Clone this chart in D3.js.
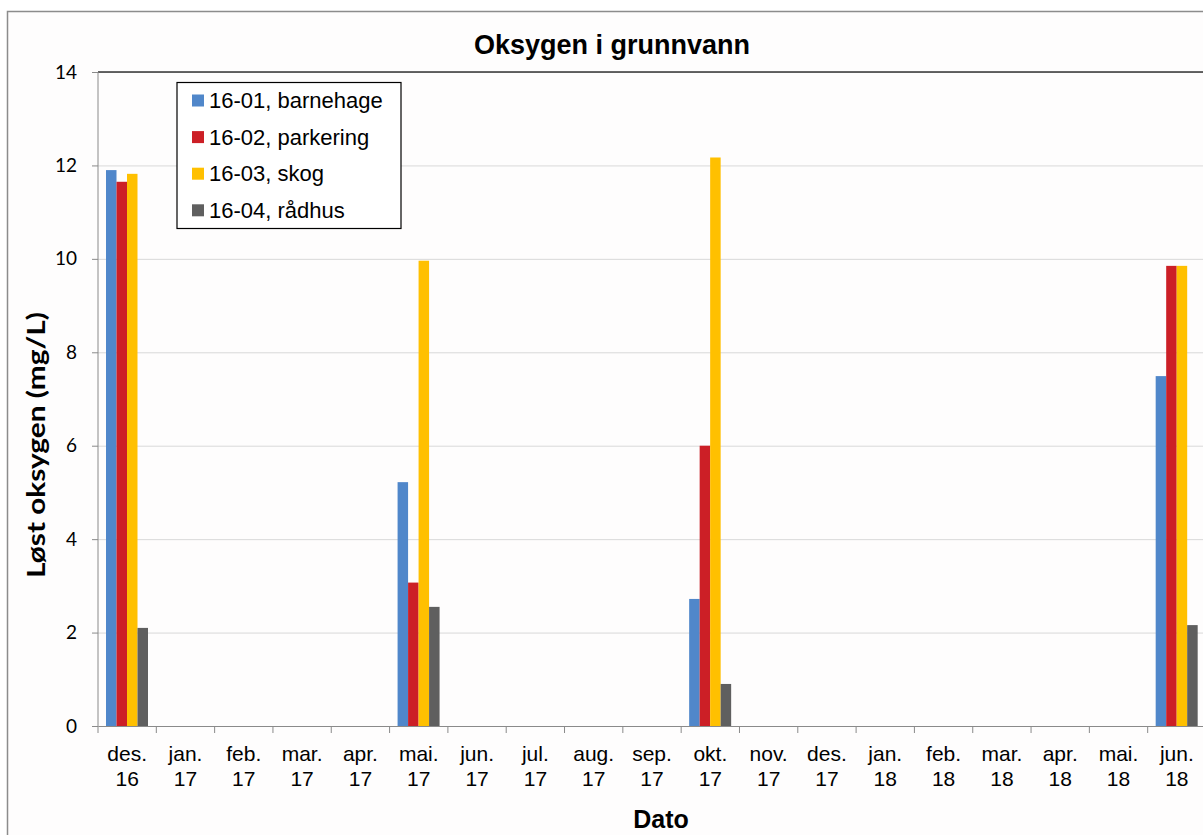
<!DOCTYPE html>
<html lang="no">
<head>
    <meta charset="UTF-8">
    <title>Oksygen i grunnvann</title>
    <script src="https://d3js.org/d3.v7.min.js"></script>
    <style>
        body {
            margin: 0;
            background: #fff;
            font-family: Arial, "Liberation Sans", sans-serif;
        }
        svg { display: block; }
        .grid line { stroke: #d9d9d9; stroke-width: 1; }
        .grid .domain { display: none; }
        .yaxis text { font-family: Lato, "Open Sans", sans-serif; font-size: 19px; fill: #000; }
        .yaxis line, .yaxis .domain { stroke: #8a8a8a; }
        .xaxis text { font-size: 21px; fill: #000; }
        .xaxis .domain { stroke: #8a8a8a; }
    </style>
</head>
<body>
<script>
    // categories (month, year)
    const months = ["des.", "jan.", "feb.", "mar.", "apr.", "mai.", "jun.", "jul.", "aug.", "sep.",
                    "okt.", "nov.", "des.", "jan.", "feb.", "mar.", "apr.", "mai.", "jun."];
    const years = ["16", "17", "17", "17", "17", "17", "17", "17", "17", "17",
                   "17", "17", "17", "18", "18", "18", "18", "18", "18"];

    const seriesNames = ["16-01, barnehage", "16-02, parkering", "16-03, skog", "16-04, rådhus"];
    const seriesColors = ["#5087ca", "#cc1f26", "#ffc000", "#5f5f5f"];

    // løst oksygen (mg/L), null = ingen måling
    const barnehage = [11.9, null, null, null, null, 5.22, null, null, null, null, 2.72, null, null, null, null, null, null, null, 7.49];
    const parkering = [11.65, null, null, null, null, 3.07, null, null, null, null, 6.0, null, null, null, null, null, null, null, 9.85];
    const skog      = [11.82, null, null, null, null, 9.96, null, null, null, null, 12.17, null, null, null, null, null, null, null, 9.85];
    const raadhus   = [2.1, null, null, null, null, 2.55, null, null, null, null, 0.9, null, null, null, null, null, null, null, 2.16];

    const yTicks = [0, 2, 4, 6, 8, 10, 12, 14];

    const W = 1203, H = 835;
    const mLeft = 98, mRight = 1206, mTop = 72, mBottom = 726;

    const cats = months.map((m, i) => i);
    const seriesValues = [barnehage, parkering, skog, raadhus];

    const x = d3.scaleBand().domain(cats).range([mLeft, mRight]).padding(0);
    const xSub = d3.scaleBand().domain(seriesNames).range([8, 50]).padding(0);
    const y = d3.scaleLinear().domain([0, 14]).range([mBottom, mTop]);

    const svg = d3.select("body").append("svg")
        .attr("width", W)
        .attr("height", H);

    // outer chart frame
    svg.append("rect")
        .attr("x", 7.5).attr("y", 11.5)
        .attr("width", W + 20).attr("height", H + 20)
        .attr("fill", "#fefdfd")
        .attr("stroke", "#8c8c8c")
        .attr("stroke-width", 1.5);

    // gridlines
    svg.append("g")
        .attr("class", "grid")
        .attr("transform", `translate(${mLeft},0)`)
        .call(d3.axisLeft(y).tickValues(yTicks).tickSize(-(mRight - mLeft)).tickFormat(""));

    // top border of plot area
    svg.append("line")
        .attr("x1", mLeft).attr("x2", mRight)
        .attr("y1", y(14)).attr("y2", y(14))
        .attr("stroke", "#333")
        .attr("stroke-width", 1.5);

    // bars
    const rows = [];
    seriesValues.forEach((vals, s) => {
        vals.forEach((v, i) => {
            if (v != null) rows.push({ cat: i, series: seriesNames[s], color: seriesColors[s], value: v });
        });
    });

    svg.append("g")
        .selectAll("rect")
        .data(rows)
        .enter()
        .append("rect")
        .attr("x", d => x(d.cat) + xSub(d.series))
        .attr("y", d => y(d.value))
        .attr("width", xSub.bandwidth())
        .attr("height", d => y(0) - y(d.value))
        .attr("fill", d => d.color);

    // y axis
    svg.append("g")
        .attr("class", "yaxis")
        .attr("transform", `translate(${mLeft},0)`)
        .call(d3.axisLeft(y).tickValues(yTicks).tickSize(6).tickSizeOuter(0).tickPadding(15))
        .select(".domain").attr("d", `M0,${mTop}V${mBottom}`);

    // x axis with two-line labels
    const xAxis = svg.append("g")
        .attr("class", "xaxis")
        .attr("transform", `translate(0,${mBottom})`)
        .call(d3.axisBottom(x).tickSize(0).tickSizeOuter(0).tickFormat(""));

    xAxis.selectAll(".tick text").remove();
    const lab = xAxis.selectAll(".tick").append("text")
        .attr("text-anchor", "middle");
    lab.append("tspan").attr("x", 0).attr("y", 35).text(d => months[d]);
    lab.append("tspan").attr("x", 0).attr("y", 60).text(d => years[d]);

    // ticks at category boundaries
    xAxis.selectAll("line.bound")
        .data(cats.slice(1).map(i => x(i)))
        .enter()
        .append("line")
        .attr("class", "bound")
        .attr("x1", d => d).attr("x2", d => d)
        .attr("y1", 0).attr("y2", 7)
        .attr("stroke", "#8a8a8a");
    xAxis.append("line")
        .attr("x1", mLeft).attr("x2", mLeft)
        .attr("y1", 0).attr("y2", 7)
        .attr("stroke", "#8a8a8a");

    // title
    svg.append("text")
        .attr("x", 612).attr("y", 54)
        .attr("text-anchor", "middle")
        .attr("font-size", "27px")
        .attr("font-weight", "bold")
        .text("Oksygen i grunnvann");

    // axis titles
    svg.append("text")
        .attr("transform", "translate(45,445) rotate(-90)")
        .attr("text-anchor", "middle")
        .attr("font-family", "Lato, 'Open Sans', sans-serif")
        .attr("font-size", "24px")
        .attr("font-weight", "bold")
        .attr("textLength", 266)
        .attr("lengthAdjust", "spacingAndGlyphs")
        .text("Løst oksygen (mg/L)");

    svg.append("text")
        .attr("x", 661).attr("y", 828)
        .attr("text-anchor", "middle")
        .attr("font-size", "25px")
        .attr("font-weight", "bold")
        .text("Dato");

    // legend
    const legend = svg.append("g");
    legend.append("rect")
        .attr("x", 177).attr("y", 82.5)
        .attr("width", 224).attr("height", 146)
        .attr("fill", "#fff")
        .attr("stroke", "#000")
        .attr("stroke-width", 1.2);

    const item = legend.selectAll("g.item")
        .data(seriesNames)
        .enter()
        .append("g")
        .attr("class", "item")
        .attr("transform", (d, i) => `translate(192,${100 + i * 36.6})`);

    item.append("rect")
        .attr("x", 0).attr("y", -5.5)
        .attr("width", 12).attr("height", 12)
        .attr("fill", (d, i) => seriesColors[i]);

    item.append("text")
        .attr("x", 17).attr("y", 8)
        .attr("font-size", "22px")
        .text(d => d);
</script>
</body>
</html>
